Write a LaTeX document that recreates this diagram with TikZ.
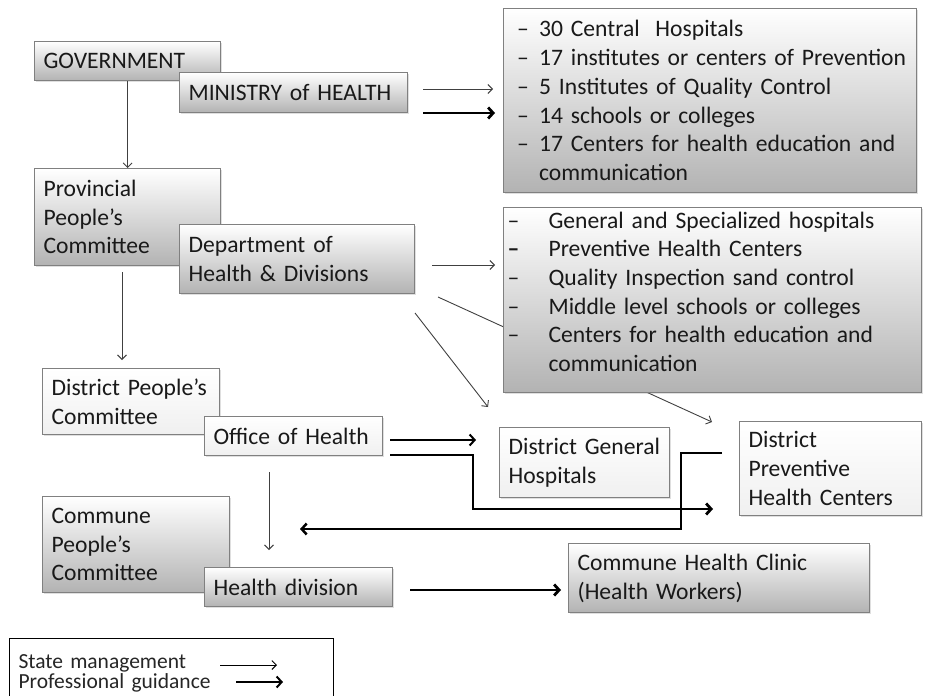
\documentclass[tikz,border=0pt]{standalone}
\usepackage{fontspec}
\setmainfont{Carlito}
\usetikzlibrary{arrows.meta,shadows}
\begin{document}
\begin{tikzpicture}[x=1pt,y=-1pt,
  box/.style={draw=black!50, line width=1.2pt, anchor=north west, align=left,
    inner xsep=9pt, inner ysep=0pt, text=black!90,
    font=\fontsize{23.6}{28.7}\selectfont,
    drop shadow={shadow xshift=1.5pt, shadow yshift=-1.5pt, opacity=0.25}},
  graybox/.style={box, top color=white, bottom color=black!30},
  whitebox/.style={box, top color=white, bottom color=black!6},
  thinarrow/.style={draw=black!75, line width=0.9pt, -{Straight Barb[length=4.5pt,width=9pt]}},
  thickarrow/.style={draw=black, line width=2.8pt, -{Straight Barb[length=5pt,width=11pt]}},
  medarrow/.style={draw=black, line width=2pt, -{Straight Barb[length=5pt,width=11pt]}}]
\useasboundingbox (0,0) rectangle (927,696);

% coordinates for free connector ends
\coordinate (mohThinS) at (423,89);  \coordinate (mohThinE) at (493,89);
\coordinate (mohThickS) at (423,113); \coordinate (mohThickE) at (495,113);
\coordinate (provS) at (122,272); \coordinate (distN) at (122,360);
\coordinate (deptThinS) at (432,265); \coordinate (deptThinE) at (495,265);
\coordinate (deptDghS) at (415,313); \coordinate (deptDghE) at (488,407);
\coordinate (deptDphcS) at (438,297); \coordinate (deptDphcE) at (712,422);
\coordinate (offUpS) at (390,440); \coordinate (offUpE) at (476,440);
\coordinate (offLowS) at (390,455); \coordinate (offLowE) at (713,509);
\coordinate (offDownS) at (269,472); \coordinate (offDownE) at (269,550);
\coordinate (backS) at (722,453); \coordinate (backE) at (300,529);
\coordinate (hdivS) at (410,590); \coordinate (hdivE) at (561,590);
\coordinate (legThinS) at (220,665); \coordinate (legThinE) at (277,665);
\coordinate (legThickS) at (236,682); \coordinate (legThickE) at (283,682);

% line passing behind the middle list box
\draw[thinarrow] (deptDphcS) -- (deptDphcE);

% boxes
\node[graybox, minimum width=186pt, minimum height=39pt, text width=168pt] (gov) at (34,41) {GOVERNMENT};
\node[graybox, minimum width=228pt, minimum height=40pt, text width=210pt] (moh) at (179,72) {MINISTRY of HEALTH};

\node[graybox, minimum width=186pt, minimum height=97pt, text width=168pt] (prov) at (34,168) {Provincial\\People’s\\Committee};
\node[graybox, minimum width=235pt, minimum height=69pt, text width=217pt] (dept) at (179,224) {Department of\\Health \& Divisions};

\node[whitebox, minimum width=177pt, minimum height=66pt, text width=159pt] (dpc) at (42,368) {\mbox{District People’s}\\Committee};
\node[whitebox, minimum width=178pt, minimum height=39pt, text width=160pt] (office) at (204,416) {Office of Health};

\node[graybox, minimum width=187pt, minimum height=96pt, text width=169pt] (cpc) at (42,496) {Commune\\People’s\\Committee};
\node[graybox, minimum width=188pt, minimum height=39pt, text width=170pt] (hdiv) at (204,567) {Health division};

\node[graybox, minimum width=413pt, minimum height=184pt, text width=386pt, inner xsep=13.5pt] (toplist) at (503,8)
 {\makebox[22pt][l]{--}30 Central~~Hospitals\\
  \makebox[22pt][l]{--}\mbox{17 institutes or centers of Prevention}\\
  \makebox[22pt][l]{--}5 Institutes of Quality Control\\
  \makebox[22pt][l]{--}14 schools or colleges\\
  \makebox[22pt][l]{--}17 Centers for health education and\\
  \hspace*{22pt}communication};

\node[graybox, minimum width=418pt, minimum height=185pt, text width=410pt, inner xsep=4pt] (midlist) at (503,207)
 {\makebox[41pt][l]{--}General and Specialized hospitals\\
  \makebox[41pt][l]{\textbf{--}}Preventive Health Centers\\
  \makebox[41pt][l]{--}Quality Inspection sand control\\
  \makebox[41pt][l]{--}Middle level schools or colleges\\
  \makebox[41pt][l]{--}Centers for health education and\\
  \hspace*{41pt}communication\\[-12pt]\mbox{}};

\node[whitebox, minimum width=170pt, minimum height=70pt, text width=152pt] (dgh) at (499,427) {\mbox{District General}\\Hospitals};
\node[whitebox, minimum width=182pt, minimum height=94pt, text width=164pt] (dphc) at (739,421) {District\\Preventive\\\mbox{Health Centers}};
\node[graybox, minimum width=301pt, minimum height=69pt, text width=283pt] (chc) at (568,543) {Commune Health Clinic\\(Health Workers)};

% legend
\node[draw=black, line width=1pt, fill=white, anchor=north west, align=left,
  inner xsep=9pt, inner ysep=0pt, minimum width=324pt, minimum height=70pt,
  text width=306pt, text=black!85, font=\fontsize{21.5}{17}\selectfont] (legend) at (9,638)
  {State management\\Professional guidance};

% connectors
\draw[thinarrow] (mohThinS) -- (mohThinE);
\draw[thickarrow] (mohThickS) -- (mohThickE);
\draw[thinarrow] (gov.south) -- (prov.north);
\draw[thinarrow] (provS) -- (distN);
\draw[thinarrow] (deptThinS) -- (deptThinE);
\draw[thinarrow] (deptDghS) -- (deptDghE);
\draw[medarrow] (offUpS) -- (offUpE);
\draw[thickarrow] (offLowS) -- (473,455) -- (473,509) -- (offLowE);
\draw[thinarrow] (offDownS) -- (offDownE);
\draw[draw=black, line width=2.5pt, -{Straight Barb[length=5pt,width=11pt]}] (backS) -- (681,453) -- (681,529) -- (backE);
\draw[thickarrow] (hdivS) -- (hdivE);
\draw[thinarrow, draw=black] (legThinS) -- (legThinE);
\draw[medarrow] (legThickS) -- (legThickE);
\end{tikzpicture}
\end{document}
